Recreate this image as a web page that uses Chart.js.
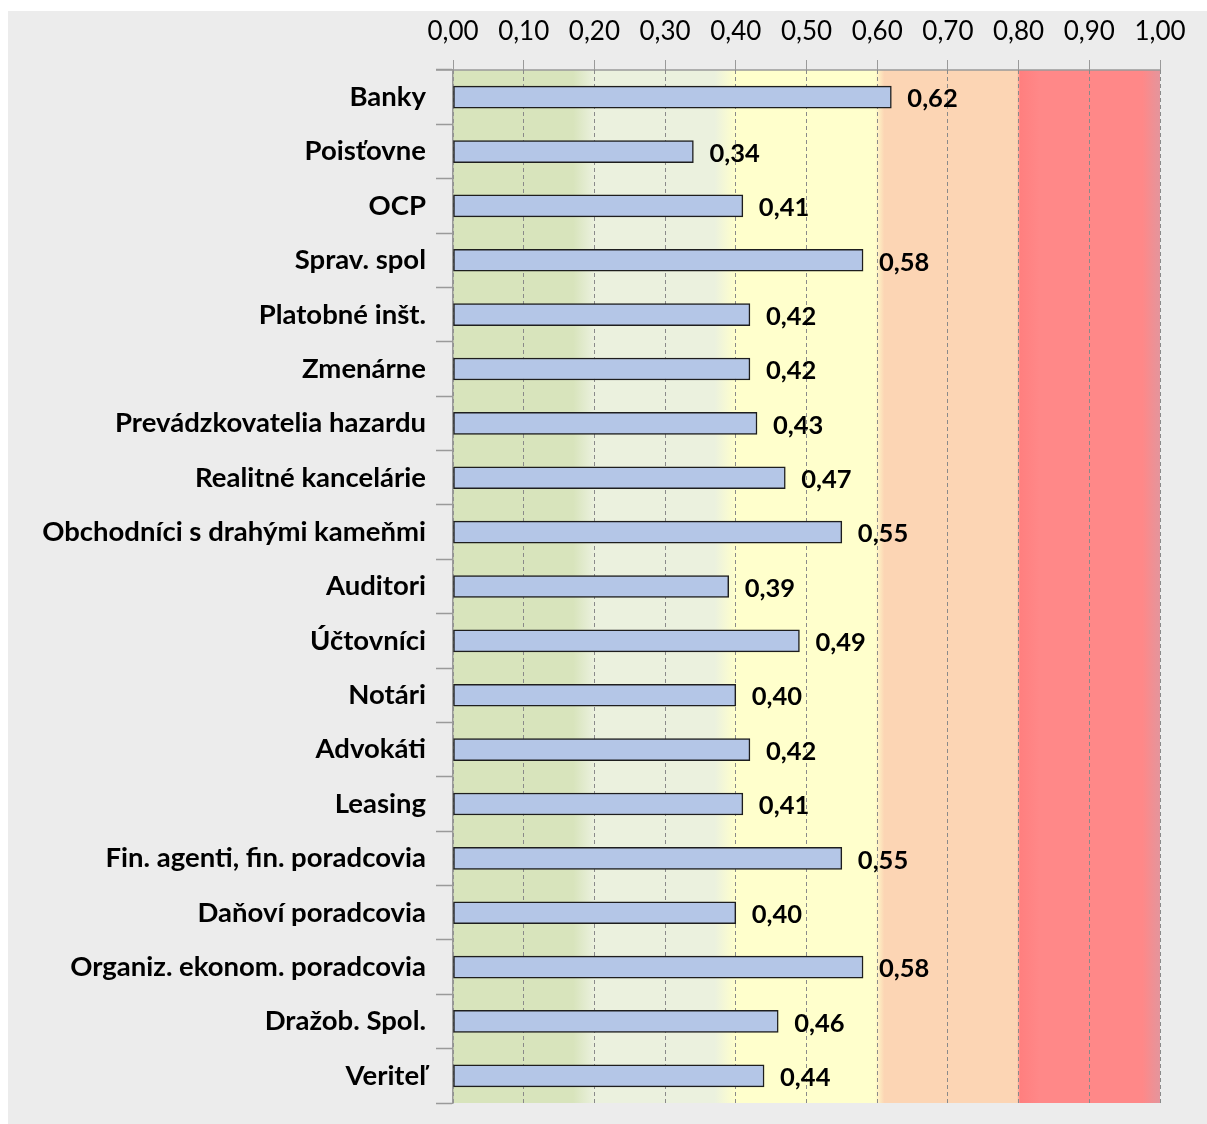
<!DOCTYPE html>
<html>
<head>
<meta charset="utf-8">
<script src="https://cdn.jsdelivr.net/npm/chart.js@4/dist/chart.umd.min.js"></script>
<style>
  html, body { margin: 0; padding: 0; background: #fff; }
  #wrap { width: 1207px; height: 1124px; position: relative; }
</style>
</head>
<body>
<div id="wrap"><canvas id="chart"></canvas></div>
<script>
const categories = [
    'Banky', 'Poisťovne', 'OCP', 'Sprav. spol', 'Platobné inšt.', 'Zmenárne',
    'Prevádzkovatelia hazardu', 'Realitné kancelárie', 'Obchodníci s drahými kameňmi',
    'Auditori', 'Účtovníci', 'Notári', 'Advokáti', 'Leasing',
    'Fin. agenti, fin. poradcovia', 'Daňoví poradcovia', 'Organiz. ekonom. poradcovia',
    'Dražob. Spol.', 'Veriteľ'
];
const values = [0.62, 0.34, 0.41, 0.58, 0.42, 0.42, 0.43, 0.47, 0.55, 0.39, 0.49, 0.40, 0.42, 0.41, 0.55, 0.40, 0.58, 0.46, 0.44];

// risk band colours, 0-0.2, 0.2-0.4, 0.4-0.6, 0.6-0.8, 0.8-1.0
const bandColors = ['#d8e4bc', '#ebf1de', '#ffffcc', '#fcd5b4', '#ff8888'];

const fmt = v => v.toFixed(2).replace('.', ',');

const backgroundPlugin = {
    id: 'bg',
    beforeDraw(chart) {
        const { ctx, chartArea: a, scales: { x } } = chart;
        ctx.save();
        ctx.fillStyle = '#ececec';
        ctx.fillRect(8, 11, chart.width - 8, chart.height - 11);

        const x0 = x.getPixelForValue(0), x1 = x.getPixelForValue(1);
        const g = ctx.createLinearGradient(x0, 0, x1, 0);
        g.addColorStop(0, bandColors[0]);
        g.addColorStop(0.17, bandColors[0]);
        g.addColorStop(0.2, bandColors[1]);
        g.addColorStop(0.37, bandColors[1]);
        g.addColorStop(0.4, bandColors[2]);
        g.addColorStop(0.597, bandColors[2]);
        g.addColorStop(0.61, bandColors[3]);
        g.addColorStop(0.798, bandColors[3]);
        g.addColorStop(0.802, '#ff7f7f');
        g.addColorStop(0.83, bandColors[4]);
        g.addColorStop(0.975, bandColors[4]);
        g.addColorStop(1, '#e4959c');
        ctx.fillStyle = g;
        ctx.fillRect(x0, a.top, x1 - x0, a.bottom - a.top);

        // top axis line runs on past the y ticks, as in the original
        ctx.strokeStyle = '#9a9a9a';
        ctx.lineWidth = 1.5;
        ctx.beginPath();
        ctx.moveTo(436, a.top);
        ctx.lineTo(a.right, a.top);
        ctx.stroke();
        ctx.restore();
    }
};

const valueLabels = {
    id: 'valueLabels',
    afterDatasetsDraw(chart) {
        const { ctx } = chart;
        const meta = chart.getDatasetMeta(0);
        ctx.save();
        ctx.font = 'bold 25.5px Lato';
        ctx.fillStyle = '#000';
        ctx.textBaseline = 'middle';
        ctx.textAlign = 'left';
        meta.data.forEach((bar, i) => {
            ctx.fillText(fmt(values[i]), bar.x + 16, bar.y + 2);
        });
        ctx.restore();
    }
};

new Chart(document.getElementById('chart'), {
    type: 'bar',
    data: {
        labels: categories,
        datasets: [{
            data: values,
            backgroundColor: '#b4c6e7',
            borderColor: '#1e1e1e',
            borderWidth: 1.5,
            borderSkipped: false,
            barThickness: 22
        }]
    },
    options: {
        indexAxis: 'y',
        responsive: true,
        maintainAspectRatio: false,
        animation: false,
        layout: { padding: { top: 11, left: 8, right: 47, bottom: 21 } },
        plugins: {
            legend: { display: false },
            tooltip: { enabled: false }
        },
        scales: {
            x: {
                position: 'top',
                min: 0,
                max: 1,
                afterFit: s => { s.height = 59; },
                ticks: {
                    stepSize: 0.1,
                    callback: v => fmt(v),
                    color: '#000',
                    font: { family: 'Lato', size: 26 },
                    padding: 13,
                    maxRotation: 0
                },
                grid: {
                    color: '#8a8a8a',
                    lineWidth: 1,
                    tickLength: 10,
                    tickColor: '#9a9a9a',
                    tickBorderDash: []
                },
                border: { display: false, dash: [4, 3] }
            },
            y: {
                afterFit: s => {
                    s.width = 445;
                    s.paddingTop = 0;
                    s.paddingBottom = 0;
                },
                ticks: {
                    color: '#000',
                    font: { family: 'Lato', size: 27.5, weight: 'bold' },
                    padding: 10
                },
                grid: {
                    drawOnChartArea: false,
                    offset: true,
                    tickLength: 17,
                    tickColor: '#9a9a9a',
                    tickWidth: 1.5
                },
                border: { color: '#9a9a9a', width: 1.5 }
            }
        }
    },
    plugins: [backgroundPlugin, valueLabels]
});
</script>
</body>
</html>
